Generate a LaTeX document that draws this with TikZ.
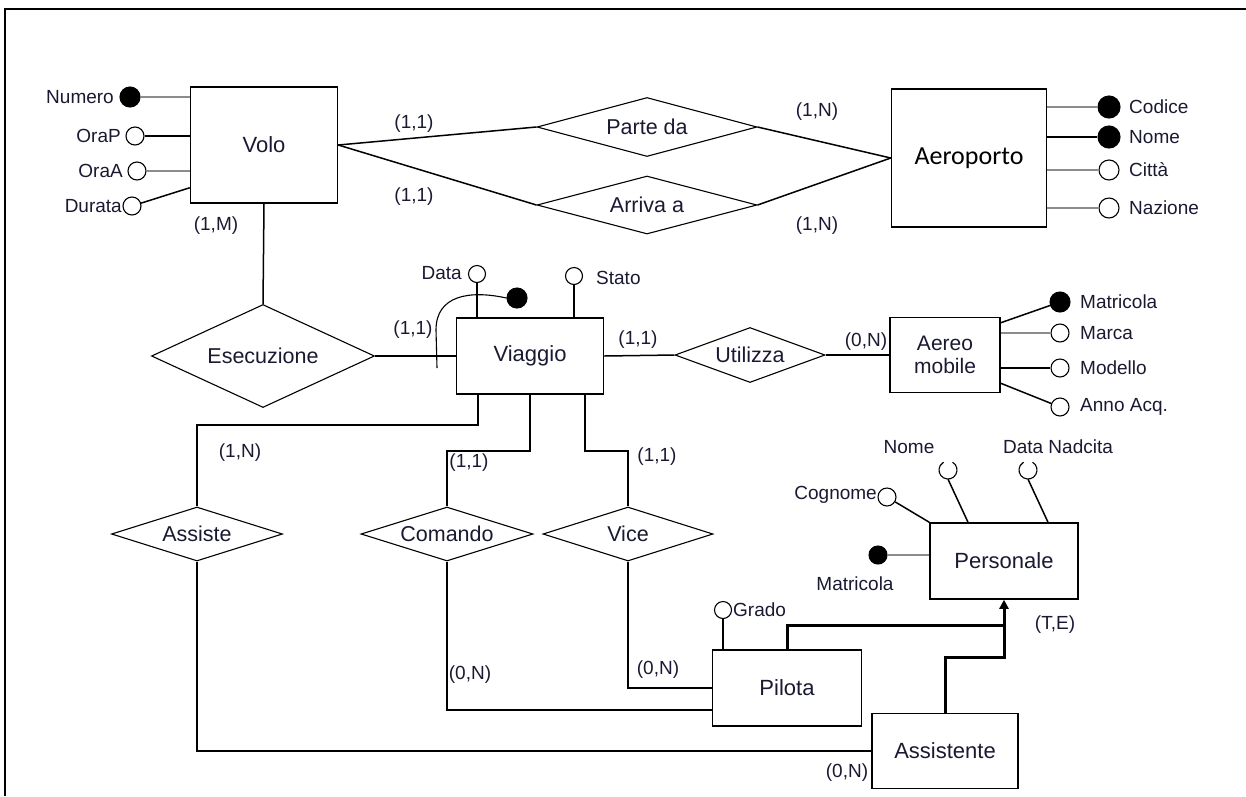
\documentclass[tikz,border=0pt]{standalone}
\usepackage{fontspec}
\setmainfont{Liberation Sans}
\newfontfamily\carl{Carlito}
\usetikzlibrary{shapes.geometric,arrows.meta}
\definecolor{txt}{RGB}{25,25,50}
\definecolor{lgray}{RGB}{140,140,140}
\tikzset{
 ent/.style={draw, rectangle, line width=1.5pt, inner sep=0pt, text=txt, font=\fontsize{22}{24}\selectfont},
 rel/.style={draw, diamond, aspect=3, line width=1.1pt, inner sep=0pt, text=txt, font=\fontsize{21.5}{23}\selectfont},
 lab/.style={inner sep=0pt, text=txt, font=\fontsize{19}{21}\selectfont},
 att/.style={draw, circle, line width=1.1pt, inner sep=0pt, minimum size=18pt, fill=white},
 keyatt/.style={att, fill=black},
 hid/.style={circle, inner sep=0pt, minimum size=18pt},
 ln/.style={line width=1.5pt},
 gln/.style={line width=1.5pt, draw=lgray},
 isa/.style={line width=3pt},
}
\begin{document}
\begin{tikzpicture}[x=1pt,y=-1pt]
\useasboundingbox (0,0) rectangle (1246,796);
\draw[line width=2pt] (5,796) -- (5,9) -- (1246,9);

% entities
\node[ent, minimum width=147pt, minimum height=116pt] (volo) at (264,145) {Volo};
\node[ent, minimum width=155pt, minimum height=138pt, font=\carl\fontsize{26}{28}\selectfont, text=black] (aero) at (969,158) {Aeroporto};
\node[ent, minimum width=147pt, minimum height=76pt] (viaggio) at (530,356) {Viaggio};
\node[ent, minimum width=110pt, minimum height=75pt, align=center, font=\fontsize{21}{23}\selectfont] (aereo) at (945,355) {Aereo\\mobile};
\node[ent, minimum width=149pt, minimum height=76pt] (pilota) at (787,688) {Pilota};
\node[ent, minimum width=146pt, minimum height=75pt] (assistente) at (945,751) {Assistente};
\node[ent, minimum width=148pt, minimum height=76pt] (personale) at (1004,561) {Personale};

% relationships
\node[rel, minimum width=220pt, minimum height=59pt] (parte) at (647,127) {Parte da};
\node[rel, minimum width=220pt, minimum height=58pt] (arriva) at (647,205) {Arriva a};
\node[rel, minimum width=223pt, minimum height=103pt] (esec) at (263,356) {Esecuzione};
\node[rel, minimum width=150pt, minimum height=55pt] (util) at (750,355) {Utilizza};
\node[rel, minimum width=171pt, minimum height=54pt] (assiste) at (197,534) {Assiste};
\node[rel, minimum width=172pt, minimum height=54pt] (comando) at (447,534) {Comando};
\node[rel, minimum width=170pt, minimum height=54pt] (vice) at (628,534) {Vice};

% connectors
\draw[ln] (volo.east) -- (parte.west);
\draw[ln] (volo.east) -- (arriva.west);
\draw[ln] (parte.east) -- (aero.west);
\draw[ln] (arriva.east) -- (aero.west);
\draw[ln] (volo.south) -- (esec.north);
\draw[ln] (esec.east) -- (viaggio.west);
\draw[ln] (viaggio.east) -- (util.west);
\draw[ln] (util.east) -- (aereo.west);
\draw[ln] ([xshift=-52pt]viaggio.south) -- ++(0,30) -| (assiste.north);
\draw[ln] (viaggio.south) -- ++(0,56) -| (comando.north);
\draw[ln] ([xshift=55pt]viaggio.south) -- ++(0,56) -| (vice.north);
\draw[ln] (comando.south) |- ([yshift=-22pt]pilota.west);
\draw[ln] (vice.south) |- (pilota.west);
\draw[ln] (assiste.south) |- (assistente.west);

% generalisation
\coordinate (j1) at (1004,625);
\coordinate (j2) at (1004,657);
\draw[isa] (pilota.north) |- (j1);
\draw[isa, -{Triangle[length=9pt,width=9pt]}] (assistente.north) |- (j2) -- (personale.south);

% cardinalities
\node[lab] (c1) at (414,124) {(1,1)};
\node[lab] (c2) at (414,197) {(1,1)};
\node[lab] (c3) at (817,112) {(1,N)};
\node[lab] (c4) at (817,226) {(1,N)};
\node[lab] (c5) at (216,226) {(1,M)};
\node[lab] (c6) at (413,330) {(1,1)};
\node[lab] (c7) at (638,340) {(1,1)};
\node[lab] (c8) at (866,342) {(0,N)};
\node[lab] (c9) at (240,453) {(1,N)};
\node[lab] (c10) at (469,463) {(1,1)};
\node[lab] (c11) at (657,457) {(1,1)};
\node[lab] (c12) at (470,675) {(0,N)};
\node[lab] (c13) at (658,670) {(0,N)};
\node[lab] (c14) at (847,773) {(0,N)};
\node[lab] (c15) at (1055,625) {(T,E)};

% Volo attributes
\node[keyatt, minimum size=20pt] (numero) at (130,97) {};
\node[lab, anchor=east] (lnumero) at (114,97) {Numero};
\draw[gln] (numero) -- (volo.west |- numero);
\node[att] (orap) at (135,136) {};
\node[lab, anchor=east] (lorap) at (121,136) {OraP};
\draw[ln] (orap) -- (volo.west |- orap);
\node[att] (oraa) at (137,171) {};
\node[lab, anchor=east] (loraa) at (123,171) {OraA};
\draw[gln] (oraa) -- (volo.west |- oraa);
\node[att] (durata) at (132,206) {};
\node[lab, anchor=east] (ldurata) at (122,206) {Durata};
\draw[ln] (durata) -- ([yshift=16pt]volo.south west);

% Aeroporto attributes
\node[keyatt, minimum size=22pt] (codice) at (1109,107) {};
\node[lab, anchor=west] (lcodice) at (1129,107) {Codice};
\draw[gln] (aero.east |- codice) -- (codice);
\node[keyatt, minimum size=22pt] (anome) at (1109,137) {};
\node[lab, anchor=west] (lanome) at (1129,137) {Nome};
\draw[ln] (aero.east |- anome) -- (anome);
\node[att, minimum size=20pt] (citta) at (1109,170) {};
\node[lab, anchor=west] (lcitta) at (1129,170) {Città};
\draw[gln] (aero.east |- citta) -- (citta);
\node[att, minimum size=20pt] (nazione) at (1109,208) {};
\node[lab, anchor=west] (lnazione) at (1129,208) {Nazione};
\draw[gln] (aero.east |- nazione) -- (nazione);

% Viaggio attributes
\node[att, minimum size=17pt] (data) at (477,274) {};
\node[lab, anchor=east] (ldata) at (462,273) {Data};
\draw[ln] (data) -- (data |- viaggio.north);
\node[att, minimum size=17pt] (stato) at (574,276) {};
\node[lab, anchor=west] (lstato) at (596,278) {Stato};
\draw[ln] (stato) -- (stato |- viaggio.north);
\node[keyatt, minimum size=20pt] (vid) at (517,298) {};
\draw[line width=1.1pt] (vid.west) .. controls (470,290) and (436,295) .. (436,330) -- (437,368);

% Aereo mobile attributes
\node[keyatt, minimum size=20pt] (matr) at (1060,302) {};
\node[lab, anchor=west] (lmatr) at (1080,302) {Matricola};
\draw[ln] ([yshift=-6pt]aereo.north east) -- (matr);
\node[att] (marca) at (1060,333) {};
\node[lab, anchor=west] (lmarca) at (1080,333) {Marca};
\draw[gln] (aereo.east |- marca) -- (marca);
\node[att] (modello) at (1060,368) {};
\node[lab, anchor=west] (lmodello) at (1080,368) {Modello};
\draw[ln] (aereo.east |- modello) -- (modello);
\node[att] (anno) at (1060,407) {};
\node[lab, anchor=west] (lanno) at (1080,407) {Anno Acq.};
\draw[ln] ([yshift=10pt]aereo.south east) -- (anno);

% Pilota attribute
\node[att, minimum size=17pt] (grado) at (723,610) {};
\node[lab, anchor=west] (lgrado) at (733,610) {Grado};
\draw[ln] (grado) -- (grado |- pilota.north);

% Personale attributes
\node[att] (cogn) at (887,497) {};
\node[lab, anchor=east] (lcogn) at (877,495) {Cognome};
\draw[ln] (cogn) -- (personale.north west);
\node[hid] (pnome) at (948,470) {};
\draw[line width=1.1pt] (pnome.center) ++(-60:9) arc[start angle=-60, end angle=240, radius=9];
\node[lab] (lpnome) at (909,447) {Nome};
\draw[ln] (pnome.south) -- ([xshift=-36pt]personale.north);
\node[hid] (pdata) at (1028,470) {};
\draw[line width=1.1pt] (pdata.center) ++(-60:9) arc[start angle=-60, end angle=240, radius=9];
\node[lab] (lpdata) at (1058,447) {Data Nadcita};
\draw[ln] (pdata.south) -- ([xshift=44pt]personale.north);
\node[keyatt] (pmatr) at (878,555) {};
\node[lab] (lpmatr) at (855,584) {Matricola};
\draw[gln] (pmatr) -- (personale.west |- pmatr);
\end{tikzpicture}
\end{document}
